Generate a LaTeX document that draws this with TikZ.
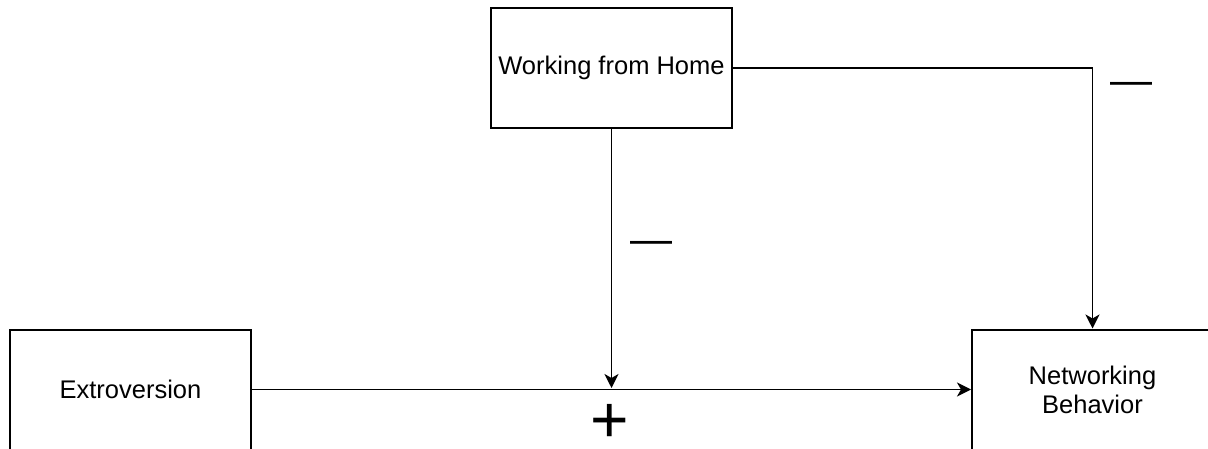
\documentclass[tikz,border=0pt]{standalone}
\usepackage{fontspec}
\setmainfont{Liberation Sans}
\usetikzlibrary{arrows.meta}
\tikzset{
  box/.style={draw=black, line width=2pt, fill=white, minimum width=241pt, minimum height=120pt, inner sep=0pt, align=center, font=\fontsize{25.5}{29}\selectfont, text=black},
  conn/.style={draw=black, line width=1.8pt, -{Stealth[length=14pt,width=14pt,inset=4pt]}},
  sign/.style={inner sep=0pt, text=black}
}
\begin{document}
\begin{tikzpicture}[x=1pt,y=-1pt]
\useasboundingbox (0,0) rectangle (1208,449);
\clip (0,0) rectangle (1208,449);
\fill[white] (0,0) rectangle (1208,449);
\node[box] (wfh) at (611.5,68) {Working from Home};
\node[box] (ext) at (130.5,389.5) {Extroversion};
\node[box] (nb) at (1092.5,389.5) {Networking\\Behavior};
\coordinate (m) at (611.5,389.5);
\draw[conn] (ext.east) -- (nb.west);
\draw[conn, shorten >=1.5pt] (wfh.south) -- (m);
\draw[conn] (wfh.east) -| (nb.north);
\node[sign, font=\fontsize{42}{42}\selectfont] (m1) at (651,247) {—};
\node[sign, font=\fontsize{42}{42}\selectfont] (m2) at (1131,88) {—};
\node[sign, font=\fontsize{66}{66}\selectfont, anchor=base, text depth=0pt, text height=0.6em] (p1) at (610,442) {+};
\end{tikzpicture}
\end{document}
